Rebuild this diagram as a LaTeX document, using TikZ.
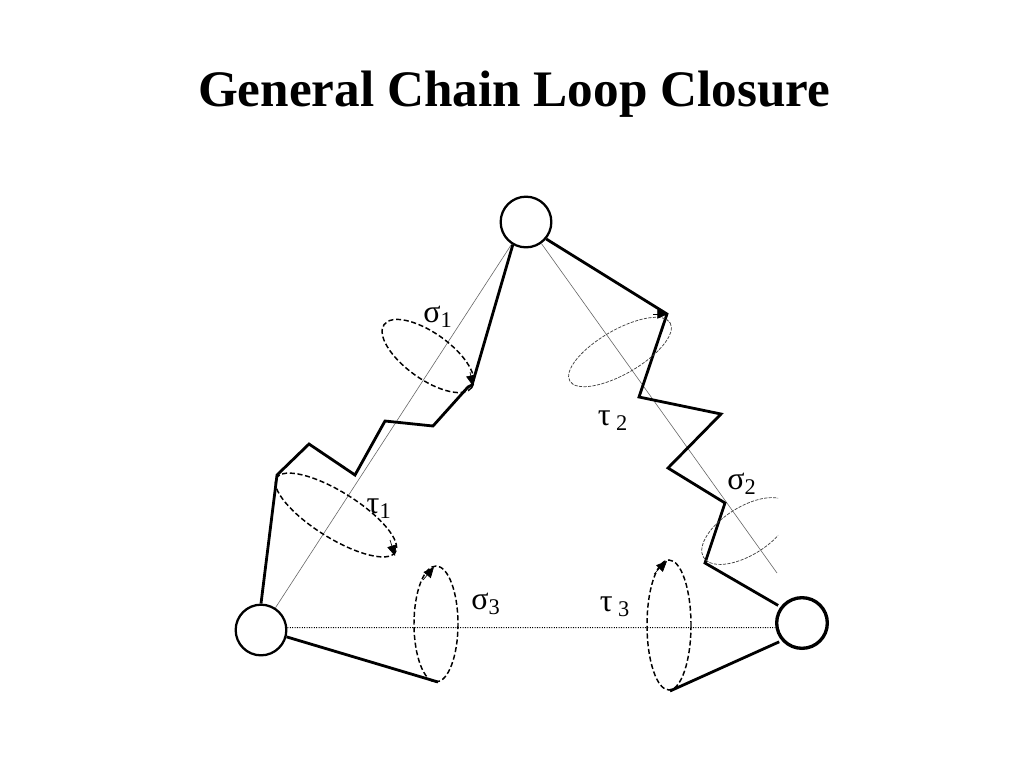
\documentclass[tikz,border=0pt]{standalone}
\usepackage{fontspec}
\usepackage{amsmath}
\setmainfont{Liberation Serif}
\usetikzlibrary{arrows.meta}
\tikzset{
  joint/.style={circle, draw, fill=white, line width=1.7pt, inner sep=0pt, minimum size=38pt},
  bond/.style={line width=2.1pt, line join=miter},
  axisline/.style={line width=.45pt, black!60},
  dotline/.style={line width=.8pt, densely dotted},
  swing/.style={line width=1.1pt, dash pattern=on 3.8pt off 2pt},
  faint/.style={line width=.55pt, black!75, dash pattern=on 2.4pt off 1pt},
  tip/.style={-{Triangle[length=8pt,width=7pt]}, line width=.5pt},
  lab/.style={font=\fontsize{24}{28}\selectfont, inner sep=0pt}
}
\begin{document}
\begin{tikzpicture}[x=.75pt, y=-.75pt]
  \useasboundingbox (0,0) rectangle (1024,768);
  \node (title) at (514,94) {\fontsize{38.4}{42}\selectfont\bfseries General Chain Loop Closure};

  \node[joint] (top) at (526,222) {};
  \node[joint] (left) at (261,630) {};
  \node[joint, line width=2.5pt] (right) at (802,623) {};

  \coordinate (a1) at (472,385);
  \coordinate (a2) at (468,387);
  \coordinate (a3) at (433,426);
  \coordinate (a4) at (385,421);
  \coordinate (a5) at (355,475);
  \coordinate (a6) at (309,444);
  \coordinate (a7) at (277,475);
  \coordinate (b1) at (667,314);
  \coordinate (b2) at (639,397);
  \coordinate (b3) at (721,414);
  \coordinate (b4) at (668,468);
  \coordinate (b5) at (725,503);
  \coordinate (b6) at (705,563);
  \coordinate (c1) at (438,682);
  \coordinate (c2) at (670,691);
  \coordinate (axisend) at (777,573);

  \draw[axisline] (top) -- (left);
  \draw[axisline] (top) -- (axisend);
  \draw[dotline] (left.5) -- (right.190);

  \draw[bond] (top.240) -- (a1) -- (a2) -- (a3) -- (a4) -- (a5) -- (a6) -- (a7) -- (left.north);
  \draw[bond, shorten >=2pt] (top.-40) -- (b1) -- (b2) -- (b3) -- (b4) -- (b5) -- (b6) -- (right.143);
  \draw[bond] (left.-15) -- (c1);
  \draw[bond, shorten <=2pt] (right.221) -- (c2);

  \draw[swing] (428,356) ellipse [x radius=54, y radius=23, rotate=-35.6];
  \draw[swing] (336,515) ellipse [x radius=70, y radius=23, rotate=-32];
  \draw[swing] (436,624) ellipse [x radius=22, y radius=58];
  \draw[swing] (669,625) ellipse [x radius=22, y radius=65];
  \draw[faint] (620,352) ellipse [x radius=58, y radius=22, rotate=30];
  \begin{scope}
    \clip (690,480) rectangle (778,580);
    \draw[faint] (746,531) ellipse [x radius=50, y radius=24, rotate=32];
  \end{scope}

  \coordinate (s1a) at (470,372);
  \coordinate (s1b) at (473,386);
  \coordinate (t1a) at (390,540);
  \coordinate (t1b) at (395,556);
  \coordinate (t2a) at (653,314);
  \coordinate (t2b) at (668,314);
  \coordinate (s3a) at (423,580);
  \coordinate (s3b) at (434,567);
  \coordinate (t3a) at (654,574);
  \coordinate (t3b) at (667,561);
  \draw[tip] (s1a) -- (s1b);
  \draw[tip] (t1a) -- (t1b);
  \draw[tip] (t2a) -- (t2b);
  \draw[tip] (s3a) -- (s3b);
  \draw[tip] (t3a) -- (t3b);

  \node[lab] (sig1) at (438,317) {σ\textsubscript{1}};
  \node[lab] (sig2) at (742,484) {σ\textsubscript{2}};
  \node[lab] (sig3) at (486,604) {σ\textsubscript{3}};
  \node[lab] (tau1) at (379,509) {τ\textsubscript{1}};
  \node[lab] (tau2) at (613,421) {τ\,\textsubscript{2}};
  \node[lab] (tau3) at (615,607) {τ\,\textsubscript{3}};
\end{tikzpicture}
\end{document}
